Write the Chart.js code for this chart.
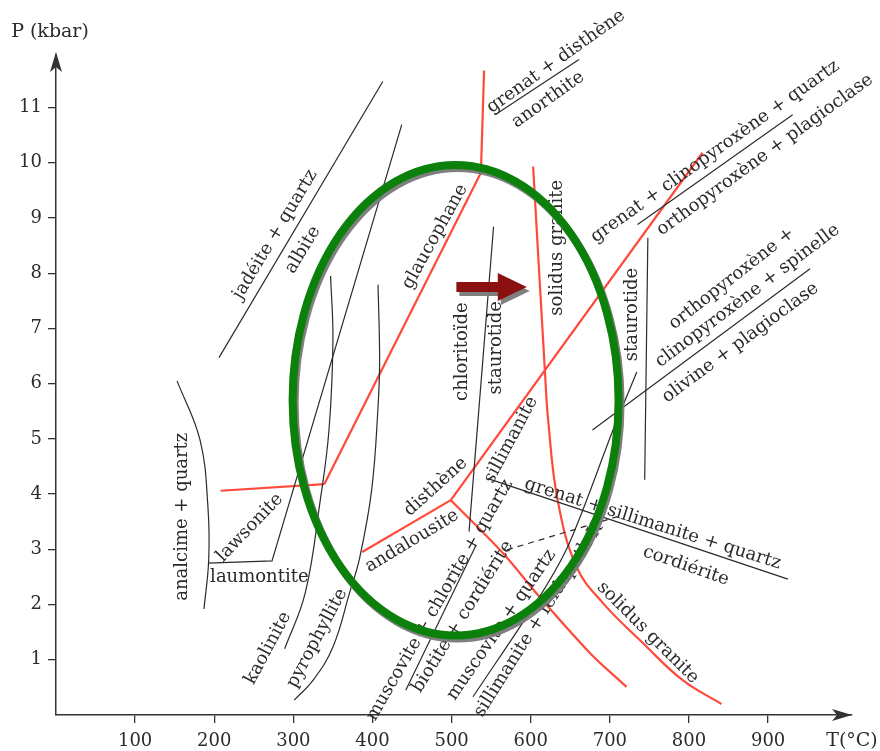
<!DOCTYPE html>
<html>
<head>
<meta charset="utf-8">
<script src="https://cdn.jsdelivr.net/npm/chart.js@4.4.1/dist/chart.umd.min.js"></script>
<style>
  html, body { margin: 0; background: #fff; }
</style>
</head>
<body>
<canvas id="ptChart" width="880" height="751"></canvas>
<script>
const xTicks = [100, 200, 300, 400, 500, 600, 700, 800, 900];
const yTicks = [1, 2, 3, 4, 5, 6, 7, 8, 9, 10, 11];

// black reaction curves, points are [T (°C), P (kbar)]
const jadeiteAlbite = [[206, 6.47], [413, 11.47]];
const lawsonite = [[192, 2.75], [273, 2.79], [437, 10.69]];
const analcime = [[153, 6.05], [182, 4.98], [192, 3.77], [193, 2.81], [187, 1.92]];
const kaolinite = [[347, 7.95], [350, 6.79], [345, 5.16], [334, 3.89], [315, 2.21], [289, 1.20]];
const pyrophyllite = [[407, 7.79], [409, 6.43], [407, 5.58], [399, 4.08], [384, 2.86], [371, 2.21], [350, 1.23], [325, 0.63], [301, 0.27]];
const chloritoide = [[553, 8.84], [522, 3.32]];
const muscoChlorite = [[442, 0.45], [531, 3.08]];
const muscoQuartz = [[527, 0.33], [611, 2.14], [649, 3.12], [704, 5.16], [734, 6.21]];
const staurotide = [[748, 8.64], [744, 4.26]];
const olivine = [[678, 5.16], [953, 8.08]];
const cordierite = [[546, 4.28], [925, 2.46]];
const cordDashed = [[570, 2.99], [709, 3.59]];
const barAnorthite = [[555, 10.87], [661, 11.87]];
const barPyroxene = [[735, 8.88], [931, 10.87]];

// red curves
const lawsGlauco = [[208, 4.06], [339, 4.18]];
const glaucophane = [[339, 4.18], [537, 9.82]];
const anorthite = [[537, 9.82], [541, 11.67]];
const kyaniteSil = [[499, 3.89], [817, 10.18]];
const andalKyanite = [[387, 2.95], [499, 3.89]];
const andalSil = [[499, 3.89], [565, 2.93], [611, 2.14], [675, 1.12], [721, 0.51]];
const solidus = [[603, 9.93], [618, 6.20], [622, 5.34], [634, 3.89], [658, 2.68], [691, 2.03], [742, 1.30], [792, 0.63], [841, 0.20]];

// field names: text, T, P, rotation (deg)
const fieldLabels = [
  ['jadéite + quartz', 277, 8.70, -59],
  ['albite', 312, 8.42, -59],
  ['analcime + quartz', 160, 3.59, -90],
  ['lawsonite', 245, 3.39, -46],
  ['laumontite', 257, 2.50, 0],
  ['kaolinite', 268, 1.21, -62],
  ['pyrophyllite', 330, 1.39, -62],
  ['glaucophane', 479, 8.66, -61],
  ['disthène', 480, 4.13, -42],
  ['andalousite', 450, 3.15, -31],
  ['chloritoïde', 514, 6.58, -90],
  ['staurotide', 557, 6.65, -90],
  ['solidus granite', 633, 8.46, -90],
  ['sillimanite', 575, 4.98, -62],
  ['staurotide', 729, 7.25, -90],
  ['grenat + disthène', 632, 11.83, -35.5],
  ['anorthite', 622, 11.14, -35.5],
  ['grenat + clinopyroxène + quartz', 833, 10.20, -35.5],
  ['orthopyroxène + plagioclase', 896, 10.14, -36],
  ['orthopyroxène +', 854, 7.90, -38],
  ['clinopyroxène + spinelle', 874, 7.59, -37],
  ['olivine + plagioclase', 865, 6.74, -36.5],
  ['grenat + sillimanite + quartz', 754, 3.46, 17.5],
  ['cordiérite', 796, 2.70, 19],
  ['muscovite + chlorite + quartz', 485, 2.08, -60],
  ['biotite + cordiérite', 514, 1.78, -58],
  ['muscovite + quartz', 563, 1.63, -55.5],
  ['sillimanite + feldspath K', 610, 1.72, -57.7],
  ['solidus granite', 748, 1.49, 45],
];

// highlighted zone (center T, P and radii) and the arrow
const zoneCenter = [505, 5.70];
const zoneRadius = [206, 4.26];
const arrowFrom = [506, 7.75];
const arrowTo = [595, 7.75];

const SERIF = '"DejaVu Serif", serif';
const INK = '#2b2b2b';
const RED = '#ff4a3a';

function curve(points, color, width, tension, dash) {
  return {
    data: points.map(p => ({ x: p[0], y: p[1] })),
    showLine: true,
    borderColor: color,
    borderWidth: width,
    borderDash: dash || [],
    pointRadius: 0,
    tension: tension,
    fill: false,
  };
}

const datasets = [
  curve(jadeiteAlbite, INK, 1.2, 0),
  curve(lawsonite, INK, 1.2, 0),
  curve(analcime, INK, 1.2, 0.4),
  curve(kaolinite, INK, 1.2, 0.4),
  curve(pyrophyllite, INK, 1.2, 0.4),
  curve(chloritoide, INK, 1.2, 0),
  curve(muscoChlorite, INK, 1.2, 0),
  curve(muscoQuartz, INK, 1.2, 0.3),
  curve(staurotide, INK, 1.2, 0),
  curve(olivine, INK, 1.2, 0),
  curve(cordierite, INK, 1.2, 0),
  curve(cordDashed, INK, 1.2, 0, [6, 5]),
  curve(barAnorthite, INK, 1.2, 0),
  curve(barPyroxene, INK, 1.2, 0),
  curve(lawsGlauco, RED, 2.2, 0),
  curve(glaucophane, RED, 2.2, 0),
  curve(anorthite, RED, 2.2, 0),
  curve(kyaniteSil, RED, 2.2, 0),
  curve(andalKyanite, RED, 2.2, 0),
  curve(andalSil, RED, 2.2, 0.3),
  curve(solidus, RED, 2.2, 0.4),
];

const overlay = {
  id: 'overlay',
  afterDatasetsDraw(chart) {
    const ctx = chart.ctx;
    const xs = chart.scales.x, ys = chart.scales.y;
    const area = chart.chartArea;
    ctx.save();

    // field names
    ctx.fillStyle = INK;
    ctx.font = '18px ' + SERIF;
    ctx.textAlign = 'center';
    ctx.textBaseline = 'middle';
    fieldLabels.forEach(([text, t, p, rot]) => {
      ctx.save();
      ctx.translate(xs.getPixelForValue(t), ys.getPixelForValue(p));
      ctx.rotate(rot * Math.PI / 180);
      ctx.fillText(text, 0, 0);
      ctx.restore();
    });

    // axis titles
    ctx.font = '19px ' + SERIF;
    ctx.fillText('P (kbar)', area.left - 6, area.top - 23);
    ctx.fillText('T(°C)', area.right, area.bottom + 26);

    // axis arrowheads
    ctx.fillStyle = '#333';
    ctx.beginPath();
    ctx.moveTo(area.left, area.top - 3);
    ctx.lineTo(area.left - 6, area.top + 17);
    ctx.lineTo(area.left, area.top + 12);
    ctx.lineTo(area.left + 6, area.top + 17);
    ctx.closePath();
    ctx.fill();
    ctx.beginPath();
    ctx.moveTo(area.right, area.bottom);
    ctx.lineTo(area.right - 20, area.bottom - 6);
    ctx.lineTo(area.right - 15, area.bottom);
    ctx.lineTo(area.right - 20, area.bottom + 6);
    ctx.closePath();
    ctx.fill();

    // green zone
    const cx = xs.getPixelForValue(zoneCenter[0]);
    const cy = ys.getPixelForValue(zoneCenter[1]);
    const rx = xs.getPixelForValue(zoneCenter[0] + zoneRadius[0]) - cx;
    const ry = cy - ys.getPixelForValue(zoneCenter[1] + zoneRadius[1]);
    ctx.shadowColor = 'rgba(120,120,120,0.95)';
    ctx.shadowOffsetX = 2;
    ctx.shadowOffsetY = 3;
    ctx.shadowBlur = 0;
    ctx.strokeStyle = '#0b800b';
    ctx.lineWidth = 8;
    ctx.beginPath();
    ctx.ellipse(cx, cy, rx, ry, 0, 0, Math.PI * 2);
    ctx.stroke();

    // arrow
    const ax0 = xs.getPixelForValue(arrowFrom[0]);
    const ax1 = xs.getPixelForValue(arrowTo[0]);
    const ay = ys.getPixelForValue(arrowFrom[1]);
    const neck = ax1 - 29;
    ctx.shadowOffsetX = 3;
    ctx.shadowOffsetY = 4;
    ctx.fillStyle = '#8b1010';
    ctx.beginPath();
    ctx.moveTo(ax0, ay - 5);
    ctx.lineTo(neck, ay - 5);
    ctx.lineTo(neck, ay - 14);
    ctx.lineTo(ax1, ay);
    ctx.lineTo(neck, ay + 14);
    ctx.lineTo(neck, ay + 5);
    ctx.lineTo(ax0, ay + 5);
    ctx.closePath();
    ctx.fill();

    ctx.restore();
  }
};

new Chart(document.getElementById('ptChart'), {
  type: 'scatter',
  data: { datasets },
  options: {
    responsive: false,
    animation: false,
    layout: { padding: { top: 55, right: 28, left: 0, bottom: 0 } },
    plugins: { legend: { display: false }, tooltip: { enabled: false } },
    scales: {
      x: {
        type: 'linear',
        min: 0,
        max: 1006,
        afterFit: s => { s.height = 36; },
        afterBuildTicks: s => { s.ticks = xTicks.map(v => ({ value: v })); },
        border: { display: true, color: '#333', width: 1.5 },
        grid: { drawOnChartArea: false, drawTicks: true, tickLength: 8, color: '#333', lineWidth: 1.3 },
        ticks: { color: INK, font: { family: SERIF, size: 18 }, padding: 8, maxRotation: 0 },
      },
      y: {
        type: 'linear',
        min: 0,
        max: 11.95,
        afterFit: s => { s.width = 56; },
        afterBuildTicks: s => { s.ticks = yTicks.map(v => ({ value: v })); },
        border: { display: true, color: '#333', width: 1.5 },
        grid: { drawOnChartArea: false, drawTicks: true, tickLength: 8, color: '#333', lineWidth: 1.3 },
        ticks: { color: INK, font: { family: SERIF, size: 18 }, padding: 6 },
      },
    },
  },
  plugins: [overlay],
});
</script>
</body>
</html>
